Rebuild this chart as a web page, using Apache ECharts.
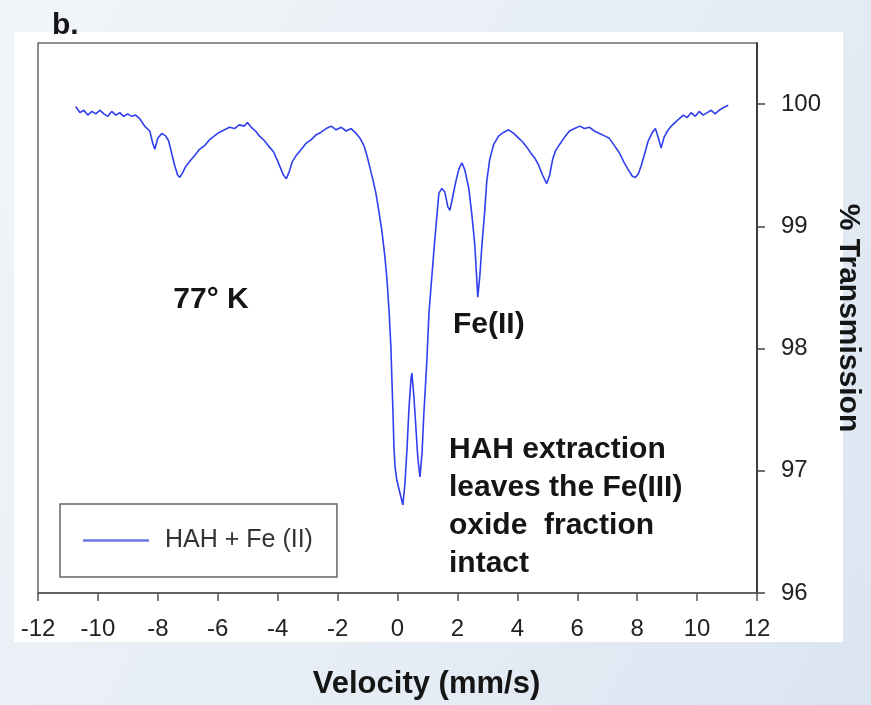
<!DOCTYPE html>
<html>
<head>
<meta charset="utf-8">
<script src="https://cdn.jsdelivr.net/npm/echarts@6/dist/echarts.min.js"></script>
<style>
  html, body { margin: 0; padding: 0; }
  body { width: 871px; height: 705px; background: linear-gradient(120deg, #f2f5f9 0%, #e6edf5 55%, #dbe5f1 100%); }
  #chart { width: 871px; height: 705px; }
</style>
</head>
<body>
<div id="chart"></div>
<script>
// Velocity (mm/s)
const velocity = [
  -10.74,-10.60,-10.47,-10.34,-10.20,-10.07,-9.94,-9.80,-9.67,-9.54,-9.40,-9.27,-9.14,-9.01,-8.87,-8.74,-8.60,-8.44,-8.27,-8.17,
  -8.10,-8.00,-7.87,-7.74,-7.64,-7.54,-7.44,-7.34,-7.27,-7.17,-7.07,-6.94,-6.77,-6.61,-6.44,-6.27,-6.11,-5.94,-5.77,-5.61,
  -5.44,-5.28,-5.11,-5.01,-4.88,-4.74,-4.61,-4.44,-4.28,-4.14,-4.01,-3.91,-3.81,-3.71,-3.61,-3.51,-3.38,-3.21,-3.05,-2.88,
  -2.71,-2.55,-2.38,-2.21,-2.05,-1.88,-1.71,-1.55,-1.38,-1.25,-1.12,-1.02,-0.92,-0.82,-0.72,-0.62,-0.52,-0.42,-0.35,-0.28,
  -0.22,-0.18,-0.15,-0.12,-0.08,-0.02,0.08,0.18,0.25,0.32,0.38,0.45,0.48,0.55,0.62,0.68,0.75,0.82,0.88,0.98,
  1.05,1.15,1.22,1.32,1.38,1.48,1.58,1.68,1.75,1.85,1.95,2.05,2.15,2.25,2.38,2.48,2.58,2.65,2.68,2.75,
  2.81,2.91,2.98,3.08,3.21,3.38,3.55,3.71,3.88,4.05,4.18,4.31,4.45,4.58,4.71,4.84,4.98,5.08,5.18,5.28,
  5.41,5.58,5.74,5.91,6.08,6.24,6.41,6.57,6.74,6.91,7.07,7.24,7.41,7.57,7.71,7.84,7.94,8.04,8.14,8.28,
  8.37,8.51,8.61,8.71,8.80,8.90,9.01,9.14,9.27,9.40,9.54,9.67,9.80,9.94,10.07,10.20,10.34,10.47,10.60,10.74,
  10.87,11.04
];
// % Transmission
const transmission = [
  99.98,99.93,99.95,99.91,99.94,99.92,99.95,99.92,99.90,99.94,99.91,99.93,99.90,99.92,99.90,99.91,99.88,99.82,99.78,99.68,
  99.63,99.72,99.76,99.74,99.70,99.60,99.50,99.42,99.40,99.44,99.49,99.53,99.58,99.63,99.66,99.71,99.74,99.77,99.79,99.81,
  99.80,99.83,99.82,99.85,99.81,99.78,99.74,99.70,99.65,99.61,99.54,99.48,99.42,99.39,99.45,99.53,99.58,99.63,99.68,99.71,
  99.75,99.77,99.80,99.82,99.79,99.81,99.78,99.80,99.76,99.72,99.66,99.58,99.48,99.38,99.27,99.12,98.96,98.75,98.56,98.30,
  98.01,97.70,97.47,97.20,97.03,96.92,96.82,96.72,96.90,97.19,97.50,97.75,97.80,97.60,97.33,97.10,96.95,97.15,97.47,97.90,
  98.29,98.60,98.82,99.10,99.27,99.31,99.28,99.16,99.13,99.25,99.37,99.47,99.52,99.46,99.31,99.10,98.85,98.55,98.42,98.60,
  98.82,99.12,99.37,99.55,99.67,99.74,99.77,99.79,99.76,99.72,99.69,99.65,99.60,99.56,99.50,99.42,99.35,99.42,99.55,99.62,
  99.67,99.73,99.78,99.80,99.82,99.80,99.81,99.78,99.76,99.74,99.72,99.66,99.60,99.52,99.46,99.41,99.40,99.43,99.50,99.62,
  99.70,99.77,99.80,99.72,99.64,99.73,99.78,99.82,99.85,99.88,99.91,99.89,99.93,99.90,99.94,99.91,99.93,99.95,99.92,99.95,
  99.97,99.99
];
const xTicks = [-12,-10,-8,-6,-4,-2,0,2,4,6,8,10,12];
const yTicks = [96,97,98,99,100];
const seriesName = 'HAH + Fe (II)';
const annotations = {
  panel: 'b.',
  temperature: '77° K',
  fe2: 'Fe(II)',
  note: 'HAH extraction\nleaves the Fe(III)\noxide  fraction\nintact'
};

const FONT = '"Liberation Sans", Arial, Helvetica, sans-serif';
const chart = echarts.init(document.getElementById('chart'), null, { renderer: 'canvas' });
const data = velocity.map((v, i) => [v, transmission[i]]);

chart.setOption({
  animation: false,
  backgroundColor: 'transparent',
  textStyle: { fontFamily: FONT },
  grid: {
    left: 38, right: 108, top: 43, bottom: 112,
    show: true, backgroundColor: '#ffffff', borderColor: '#6a6a6a', borderWidth: 1.5
  },
  xAxis: {
    type: 'value', min: xTicks[0], max: xTicks[xTicks.length - 1], interval: 2,
    name: 'Velocity (mm/s)', nameLocation: 'middle', nameGap: 76,
    nameTextStyle: { fontFamily: FONT, fontSize: 31, fontWeight: 'bold', color: '#151515', padding: [0, 0, 0, 58] },
    axisLine: { show: true, onZero: false, lineStyle: { color: '#555', width: 1.5 } },
    axisTick: { show: true, inside: false, length: 8, lineStyle: { color: '#555', width: 1.5 } },
    axisLabel: { fontFamily: FONT, fontSize: 24, color: '#222', margin: 24, showMinLabel: true, showMaxLabel: true },
    splitLine: { show: false }
  },
  yAxis: {
    type: 'value', position: 'right', min: 96, max: 100.5,
    name: '% Transmission', nameLocation: 'middle', nameRotate: -90, nameGap: 76,
    nameTextStyle: { fontFamily: FONT, fontSize: 30, fontWeight: 'bold', color: '#151515', padding: [24, 0, 0, 0] },
    axisLine: { show: true, onZero: false, lineStyle: { color: '#222', width: 1.5 } },
    axisTick: { show: true, inside: false, length: 8, customValues: yTicks, lineStyle: { color: '#444', width: 1.5 } },
    axisLabel: { fontFamily: FONT, fontSize: 24, color: '#222', margin: 24, customValues: yTicks },
    splitLine: { show: false }
  },
  legend: {
    show: true, left: 60, top: 504, orient: 'horizontal',
    data: [{ name: seriesName, icon: 'rect', itemStyle: { color: '#6b76ea' } }],
    itemWidth: 66, itemHeight: 2.5,
    padding: [24, 24, 24, 23],
    borderColor: '#666', borderWidth: 1.5, borderRadius: 0,
    backgroundColor: '#fff',
    textStyle: { fontFamily: FONT, fontSize: 25, color: '#333', padding: [0, 0, 0, 11] }
  },
  series: [{
    name: seriesName, type: 'line', data: data,
    showSymbol: false, symbol: 'none', smooth: false,
    lineStyle: { color: '#2f3ff0', width: 1.6 },
    itemStyle: { color: '#6b76ea' },
    z: 3
  }],
  graphic: [
    { type: 'rect', z: -10, silent: true, shape: { x: 14, y: 32, width: 829, height: 610 }, style: { fill: '#ffffff' } },
    { type: 'text', z: 10, style: { x: 52, y: 26, text: annotations.panel, font: 'bold 30px ' + FONT, fill: '#151515', verticalAlign: 'middle' } },
    { type: 'text', z: 10, style: { x: 211, y: 300, text: annotations.temperature, font: 'bold 30px ' + FONT, fill: '#151515', align: 'center', verticalAlign: 'middle' } },
    { type: 'text', z: 10, style: { x: 453, y: 325, text: annotations.fe2, font: 'bold 30px ' + FONT, fill: '#151515', verticalAlign: 'middle' } },
    { type: 'text', z: 10, style: { x: 449, y: 431, text: annotations.note, font: 'bold 30px ' + FONT, lineHeight: 38, fill: '#151515', verticalAlign: 'top' } }
  ]
});
</script>
</body>
</html>
